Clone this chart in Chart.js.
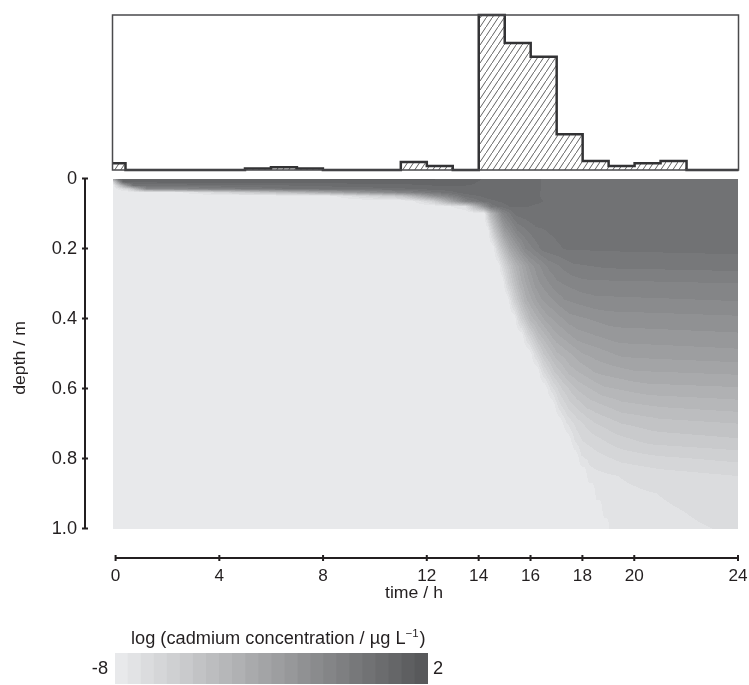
<!DOCTYPE html>
<html>
<head>
<meta charset="utf-8">
<script src="https://cdn.jsdelivr.net/npm/chart.js@4.4.1/dist/chart.umd.min.js"></script>
<style>
  body { margin: 0; background: #fff; }
  #wrap { position: relative; width: 749px; height: 685px; }
  canvas { position: absolute; left: 0; }
</style>
</head>
<body>
<div id="wrap">
  <canvas id="mainChart" width="749" height="685" style="top:0"></canvas>
  <canvas id="rainChart" width="749" height="180" style="top:0"></canvas>
  <canvas id="scaleChart" width="749" height="85" style="top:600px"></canvas>
</div>
<script>
// Rain bins on top (hours, arbitrary units, peak = top of box)
const rainStart = [-0.1, 5, 6, 7, 11, 12, 14, 15, 16, 17, 18, 19, 20, 21];
const rainEnd = [0.4, 6, 7, 8, 12, 13, 15, 16, 17, 18, 19, 20, 21, 22];
const rainValues = [0.43, 0.1, 0.17, 0.1, 0.51, 0.26, 10, 8.2, 7.3, 2.3, 0.58, 0.26, 0.43, 0.58];

// Axes
const timeTicks = [0, 4, 8, 12, 14, 16, 18, 20, 24];
const depthTicks = [0, 0.2, 0.4, 0.6, 0.8, 1.0];
const depthTickLabels = ['0', '0.2', '0.4', '0.6', '0.8', '1.0'];

// Colour scale: log cadmium concentration
const colorMin = -8;
const colorMax = 2;
const colorLevels = 24;

// Contour field: one row per depth (m),
// each row = times (h) and log concentration at those times
const contourDepths = [0, 0.01, 0.02, 0.03, 0.04, 0.05, 0.065, 0.08, 0.1, 0.15, 0.2, 0.25, 0.3, 0.35,
    0.4, 0.45, 0.5, 0.55, 0.6, 0.65, 0.7, 0.75, 0.8, 0.85, 0.9, 0.95, 1.0];
const contourTimes = [
    [-0.1, 0.15, 12, 13.5, 14.3, 16, 16.6, 24],
    [-0.1, 0.3, 12, 13.5, 14.3, 16, 16.6, 24],
    [-0.1, 0.35, 0.7, 7, 11, 12.2, 13.5, 14.5, 16, 16.6, 24],
    [-0.1, 0.5, 1.2, 7, 11, 12.2, 13.5, 14.5, 16, 16.6, 24],
    [-0.1, 2, 7, 11, 12.2, 13.5, 14.5, 16, 16.6, 24],
    [-0.1, 8, 11, 12.2, 13.5, 14.5, 16, 16.6, 24],
    [-0.1, 11.3, 12.2, 13.5, 14.2, 15, 16.3, 17, 24],
    [-0.1, 12.4, 13.5, 14.1, 14.5, 15.2, 16, 17, 24],
    [-0.1, 14.2, 14.45, 14.9, 15.4, 16, 16.5, 24],
    [-0.1, 14.35, 14.6, 15.0, 15.5, 16.2, 17.2, 24],
    [-0.1, 14.55, 14.8, 15.2, 15.8, 16.5, 17.4, 24],
    [-0.1, 14.75, 15.0, 15.4, 16.0, 16.7, 17.6, 19, 24],
    [-0.1, 14.92, 15.15, 15.6, 16.2, 17.0, 18, 24],
    [-0.1, 15.12, 15.35, 15.8, 16.4, 17.3, 18.5, 24],
    [-0.1, 15.37, 15.6, 16.0, 16.6, 17.5, 19, 24],
    [-0.1, 15.65, 15.9, 16.3, 16.9, 17.8, 19.3, 24],
    [-0.1, 15.95, 16.2, 16.5, 17.0, 18, 19.5, 24],
    [-0.1, 16.25, 16.5, 16.9, 17.5, 18.5, 20, 24],
    [-0.1, 16.55, 16.8, 17.2, 17.8, 18.8, 20.5, 24],
    [-0.1, 16.85, 17.1, 17.5, 18.2, 19.5, 21, 24],
    [-0.1, 17.12, 17.4, 17.8, 18.5, 19.5, 21, 24],
    [-0.1, 17.45, 17.7, 18, 19.3, 20.6, 24],
    [-0.1, 17.75, 17.95, 18.5, 19.5, 21, 24],
    [-0.1, 18.08, 18.25, 19.5, 21, 24],
    [-0.1, 18.4, 18.55, 21.1, 24],
    [-0.1, 18.68, 18.83, 22.2, 24],
    [-0.1, 18.95, 19.1, 23.4, 24]
];
const contourLogConc = [
    [-3.0, 1.17, 1.29, 1.08, 0.67, 0.5, 0.25, 0.17],
    [-6.5, 0.85, 1.0, 0.88, 0.63, 0.5, 0.25, 0.17],
    [-8, -3.0, 0.0, 0.35, 0.6, 0.75, 0.75, 0.67, 0.5, 0.25, 0.17],
    [-8, -6.5, -1.5, 0.0, 0.25, 0.5, 0.67, 0.67, 0.5, 0.25, 0.17],
    [-8, -8, -4.5, -1.2, -0.3, 0.54, 0.58, 0.46, 0.25, 0.17],
    [-8, -8, -5.5, -2.17, 0.13, 0.54, 0.46, 0.25, 0.17],
    [-8, -8, -6.33, -0.92, 0.13, 0.46, 0.38, 0.21, 0.13],
    [-8, -8, -7.17, -3.0, -0.29, 0.38, 0.33, 0.17, 0.13],
    [-8, -8, -4.67, -1.33, 0.04, 0.25, 0.13, 0.13],
    [-8, -8, -5.5, -2.58, -0.92, -0.17, 0.04, 0.08],
    [-8, -8, -5.92, -3.42, -1.33, -0.29, -0.04, 0.04],
    [-8, -8, -6.33, -4.25, -2.38, -1.21, -0.58, -0.42, -0.33],
    [-8, -8, -6.33, -4.04, -2.38, -1.42, -1.04, -0.92],
    [-8, -8, -6.33, -4.04, -2.67, -1.79, -1.46, -1.33],
    [-8, -8, -6.33, -4.46, -3.21, -2.33, -1.96, -1.83],
    [-8, -8, -6.54, -4.88, -3.63, -2.79, -2.38, -2.25],
    [-8, -8, -6.75, -5.5, -4.33, -3.42, -2.88, -2.71],
    [-8, -8, -6.75, -5.5, -4.46, -3.75, -3.42, -3.29],
    [-8, -8, -6.96, -5.92, -5.0, -4.33, -4.0, -3.88],
    [-8, -8, -6.96, -6.13, -5.38, -4.83, -4.63, -4.46],
    [-8, -8, -7.17, -6.54, -5.92, -5.5, -5.25, -5.08],
    [-8, -8, -7.17, -6.75, -6.13, -5.79, -5.58],
    [-8, -8, -7.25, -6.96, -6.63, -6.42, -6.21],
    [-8, -8, -7.33, -7.15, -6.96, -6.75],
    [-8, -8, -7.33, -7.15, -6.96],
    [-8, -8, -7.33, -7.15, -7.04],
    [-8, -8, -7.33, -7.15, -7.13]
];

const FONT = '"Liberation Sans", Arial, sans-serif';
const STRETCH = 1.04;
const INK = '#231f20';
const LIGHT = [232, 233, 235];
const DARK = [88, 89, 91];

function levelRGB(k) {
    const f = k / (colorLevels - 1);
    return LIGHT.map((c, i) => Math.round(c + (DARK[i] - c) * f));
}
const levelColors = Array.from({length: colorLevels}, (_, k) => levelRGB(k));

function levelOf(v) {
    const k = Math.floor((v - colorMin) / (colorMax - colorMin) * colorLevels);
    return Math.max(0, Math.min(colorLevels - 1, k));
}

function evalRow(ts, vs, t) {
    if (t <= ts[0]) return vs[0];
    for (let k = 1; k < ts.length; k++) {
        if (t <= ts[k]) return vs[k - 1] + (vs[k] - vs[k - 1]) * (t - ts[k - 1]) / (ts[k] - ts[k - 1]);
    }
    return vs[vs.length - 1];
}

// Text slightly wider than Liberation Sans, like the original lettering
function drawText(ctx, text, x, y, size, align, baseline) {
    ctx.save();
    ctx.font = size + 'px ' + FONT;
    ctx.textAlign = align;
    ctx.textBaseline = baseline || 'middle';
    ctx.translate(x, y);
    ctx.scale(STRETCH, 1);
    ctx.fillText(text, 0, 0);
    const w = ctx.measureText(text).width * STRETCH;
    ctx.restore();
    return w;
}

// Filled contours, pixel by pixel through the chart's scales
const contourPlugin = {
    id: 'contour',
    beforeDatasetsDraw(chart) {
        const {ctx, chartArea: a, scales: {x, y}} = chart;
        const left = Math.round(a.left), top = Math.round(a.top);
        const w = Math.round(a.right) - left, h = Math.round(a.bottom) - top;
        const img = ctx.createImageData(w, h);
        const rows = [];
        for (let j = 0; j < h; j++) {
            const d = Math.max(0, Math.min(1, y.getValueForPixel(top + j + 0.5)));
            let k = 0;
            while (k < contourDepths.length - 2 && d > contourDepths[k + 1]) k++;
            rows.push({k, f: (d - contourDepths[k]) / (contourDepths[k + 1] - contourDepths[k])});
        }
        const rowVals = new Array(contourDepths.length);
        for (let i = 0; i < w; i++) {
            const t = x.getValueForPixel(left + i + 0.5);
            for (let k = 0; k < contourDepths.length; k++) {
                rowVals[k] = evalRow(contourTimes[k], contourLogConc[k], t);
            }
            for (let j = 0; j < h; j++) {
                const r = rows[j];
                const v = rowVals[r.k] + (rowVals[r.k + 1] - rowVals[r.k]) * r.f;
                const c = levelColors[levelOf(v)];
                const p = (j * w + i) * 4;
                img.data[p] = c[0]; img.data[p + 1] = c[1]; img.data[p + 2] = c[2]; img.data[p + 3] = 255;
            }
        }
        ctx.putImageData(img, left, top);
    }
};

// Detached axes drawn from the scales
const axesPlugin = {
    id: 'axes',
    afterDraw(chart) {
        const {ctx, scales: {x, y}} = chart;
        ctx.save();
        ctx.strokeStyle = INK;
        ctx.fillStyle = INK;
        ctx.lineWidth = 2;

        // depth axis
        const ax = 85;
        ctx.beginPath();
        ctx.moveTo(ax, y.getPixelForValue(0));
        ctx.lineTo(ax, y.getPixelForValue(1));
        depthTicks.forEach(v => {
            const py = y.getPixelForValue(v);
            ctx.moveTo(ax - 3, py);
            ctx.lineTo(ax + 3, py);
        });
        ctx.stroke();
        depthTicks.forEach((v, i) => drawText(ctx, depthTickLabels[i], ax - 8, y.getPixelForValue(v) + 1, 17.5, 'right'));

        // time axis
        const ay = 558;
        ctx.beginPath();
        ctx.moveTo(x.getPixelForValue(0), ay);
        ctx.lineTo(x.getPixelForValue(24), ay);
        timeTicks.forEach(v => {
            const px = x.getPixelForValue(v);
            ctx.moveTo(px, ay - 3);
            ctx.lineTo(px, ay + 3);
        });
        ctx.stroke();
        timeTicks.forEach(v => drawText(ctx, String(v), x.getPixelForValue(v), 576, 16.5, 'center'));

        // axis titles
        drawText(ctx, 'time / h', 414, 593, 17, 'center');
        ctx.translate(20, 358);
        ctx.rotate(-Math.PI / 2);
        drawText(ctx, 'depth / m', 0, 0, 17, 'center');
        ctx.restore();
    }
};

new Chart(document.getElementById('mainChart'), {
    type: 'scatter',
    data: {datasets: [{data: []}]},
    options: {
        responsive: false,
        animation: false,
        layout: {padding: {left: 113, right: 11, top: 178.5, bottom: 156.5}},
        plugins: {legend: {display: false}, tooltip: {enabled: false}},
        scales: {
            x: {type: 'linear', min: -0.1, max: 24, display: false},
            y: {type: 'linear', min: 0, max: 1, reverse: true, display: false}
        }
    },
    plugins: [contourPlugin, axesPlugin]
});

// Rain histogram
function makeHatch() {
    const c = document.createElement('canvas');
    c.width = 6;
    c.height = 9;
    const g = c.getContext('2d');
    g.strokeStyle = '#3a3a3a';
    g.lineWidth = 0.8;
    g.beginPath();
    g.moveTo(-1, 10.5);
    g.lineTo(7, -1.5);
    g.stroke();
    return g.createPattern(c, 'repeat');
}

function rainSteps() {
    const pts = [];
    let cursor = rainStart[0];
    rainStart.forEach((s, i) => {
        if (s > cursor) pts.push({x: cursor, y: 0});
        pts.push({x: s, y: rainValues[i]});
        cursor = rainEnd[i];
    });
    pts.push({x: cursor, y: 0});
    pts.push({x: 24, y: 0});
    return pts;
}

const boxPlugin = {
    id: 'box',
    afterDraw(chart) {
        const {ctx, chartArea: a} = chart;
        ctx.save();
        ctx.strokeStyle = '#4a4a4c';
        ctx.lineWidth = 1.5;
        ctx.strokeRect(a.left, a.top, a.right - a.left, a.bottom - a.top);
        ctx.restore();
    }
};

new Chart(document.getElementById('rainChart'), {
    type: 'line',
    data: {
        datasets: [{
            data: rainSteps(),
            stepped: 'before',
            fill: 'origin',
            backgroundColor: makeHatch(),
            borderColor: '#333335',
            borderWidth: 2.5,
            pointRadius: 0,
            clip: 4
        }]
    },
    options: {
        responsive: false,
        animation: false,
        layout: {padding: {left: 112.5, right: 10.5, top: 15, bottom: 10}},
        plugins: {legend: {display: false}, tooltip: {enabled: false}},
        scales: {
            x: {type: 'linear', min: -0.1, max: 24, display: false},
            y: {min: 0, max: 10, display: false}
        }
    },
    plugins: [boxPlugin]
});

// Colour scale bar
const scaleLabels = levelColors.map((_, k) => (colorMin + (colorMax - colorMin) * k / colorLevels).toFixed(2));

const scaleTextPlugin = {
    id: 'scaleText',
    afterDraw(chart) {
        const {ctx, chartArea: a} = chart;
        ctx.save();
        ctx.fillStyle = INK;
        const my = (a.top + a.bottom) / 2 + 1;
        drawText(ctx, String(colorMin), a.left - 7, my, 17.5, 'right');
        drawText(ctx, String(colorMax), a.right + 5, my, 17.5, 'left');

        // title with superscript
        let tx = 131;
        const by = 44;
        tx += drawText(ctx, 'log (cadmium concentration / \u00b5g L', tx, by, 17.5, 'left', 'alphabetic');
        tx += drawText(ctx, '\u22121', tx, by - 7, 11, 'left', 'alphabetic') + 1;
        drawText(ctx, ')', tx, by, 17.5, 'left', 'alphabetic');
        ctx.restore();
    }
};

new Chart(document.getElementById('scaleChart'), {
    type: 'bar',
    data: {
        labels: scaleLabels,
        datasets: [{
            data: scaleLabels.map(() => 1),
            backgroundColor: levelColors.map(c => `rgb(${c[0]}, ${c[1]}, ${c[2]})`),
            borderWidth: 0,
            categoryPercentage: 1,
            barPercentage: 1
        }]
    },
    options: {
        responsive: false,
        animation: false,
        layout: {padding: {left: 115, right: 321, top: 53, bottom: 1}},
        plugins: {legend: {display: false}, tooltip: {enabled: false}},
        scales: {
            x: {display: false},
            y: {min: 0, max: 1, display: false}
        }
    },
    plugins: [scaleTextPlugin]
});
</script>
</body>
</html>
